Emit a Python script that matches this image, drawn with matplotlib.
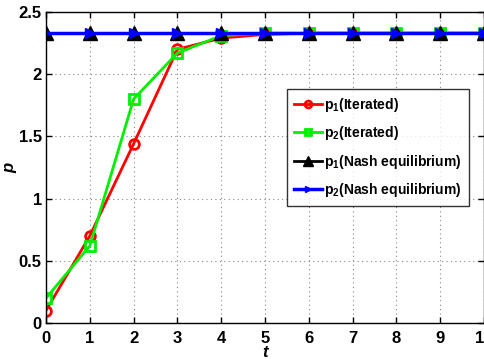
import numpy as np
import matplotlib.pyplot as plt

plt.rcParams['font.family'] = ['Liberation Sans', 'DejaVu Sans']
plt.rcParams['font.weight'] = 'bold'
plt.rcParams['mathtext.fontset'] = 'custom'
plt.rcParams['mathtext.rm'] = 'Liberation Sans:bold'
plt.rcParams['mathtext.it'] = 'Liberation Sans:italic:bold'
plt.rcParams['mathtext.bf'] = 'Liberation Sans:bold'
plt.rcParams['mathtext.default'] = 'rm'

# data
t = [0, 1, 2, 3, 4, 5, 6, 7, 8, 9, 10]
p1_iter = [0.10, 0.70, 1.44, 2.20, 2.29, 2.32, 2.33, 2.33, 2.33, 2.33, 2.33]
p2_iter = [0.20, 0.62, 1.80, 2.17, 2.31, 2.33, 2.33, 2.33, 2.33, 2.33, 2.33]
p1_nash = [2.33] * 11
p2_nash = [2.33] * 11

labels = ['p$_1$(Iterated)', 'p$_2$(Iterated)',
          'p$_1$(Nash equilibrium)', 'p$_2$(Nash equilibrium)']

fig = plt.figure(figsize=(4.85, 3.59), dpi=100)
ax = fig.add_axes([46/485, 36/359, 438/485, 311/359])

ax.plot(t, p1_iter, color='red', lw=2, marker='o', ms=7, mfc='none', mew=2, label=labels[0])
ax.plot(t, p2_iter, color='#00f000', lw=2, marker='s', ms=6.5, mfc='none', mew=2, label=labels[1])
ax.plot(t, p1_nash, color='black', lw=2, marker='^', ms=10, mfc='black', label=labels[2])
ax.plot(t, p2_nash, color='blue', lw=2.5, marker='>', ms=7, mfc='blue', label=labels[3])

ax.set_xlim(0, 10)
ax.set_ylim(0, 2.5)
ax.set_xticks(range(0, 11))
ax.set_yticks([0, 0.5, 1, 1.5, 2, 2.5])
ax.set_yticklabels(['0', '0.5', '1', '1.5', '2', '2.5'])
ax.tick_params(direction='in', top=True, right=True, labelsize=12, length=4, width=1, pad=6)
ax.tick_params(axis='y', pad=3)
for lab in ax.get_xticklabels() + ax.get_yticklabels():
    lab.set_fontweight('bold')
ax.grid(True, linestyle=(0, (1, 3)), color='#888888', lw=0.8)
ax.set_xlabel('t', fontsize=12, fontweight='bold', fontstyle='italic', labelpad=-1)
ax.set_ylabel('p', fontsize=12, fontweight='bold', fontstyle='italic')
ax.yaxis.set_label_coords(-0.065, 0.5)
for s in ax.spines.values():
    s.set_linewidth(1)

leg = ax.legend(loc='upper left', bbox_to_anchor=(241/438, 234/311), fontsize=10,
                frameon=True, fancybox=False, edgecolor='black', handlelength=2.0,
                handletextpad=0.2, borderpad=0.5, labelspacing=0.75, borderaxespad=0,
                markerscale=0.7)
leg.get_frame().set_linewidth(1)

fig.savefig('out.png', dpi=100)
